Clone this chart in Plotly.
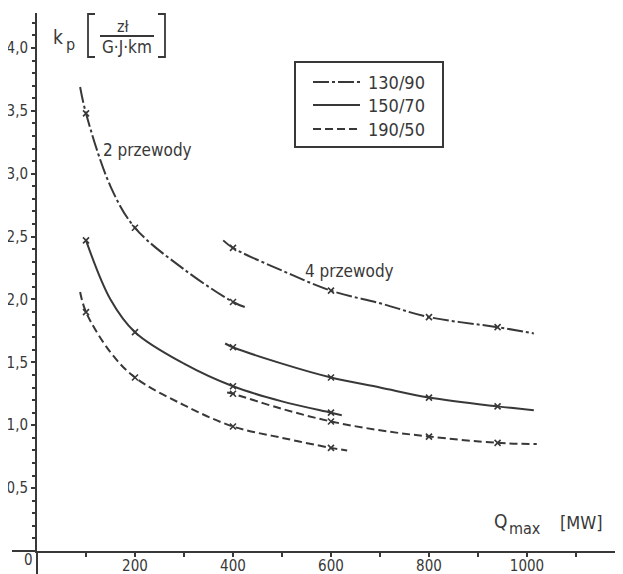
import plotly.graph_objects as go

# ---------------- data ----------------
# curves: Q_max [MW] and k_p [zł/(GJ·km)]
q_130_2 = [88, 100, 150, 200, 300, 400, 424]
k_130_2 = [3.69, 3.48, 2.90, 2.57, 2.24, 1.98, 1.94]
q_150_2 = [100, 150, 200, 300, 400, 500, 600, 622]
k_150_2 = [2.47, 2.00, 1.74, 1.49, 1.31, 1.19, 1.10, 1.08]
q_190_2 = [88, 100, 150, 200, 300, 400, 500, 600, 633]
k_190_2 = [2.06, 1.90, 1.58, 1.38, 1.16, 0.99, 0.90, 0.82, 0.80]

q_130_4 = [380, 400, 500, 600, 700, 800, 940, 1014]
k_130_4 = [2.47, 2.41, 2.23, 2.07, 1.97, 1.86, 1.78, 1.73]
q_150_4 = [384, 400, 500, 600, 700, 800, 940, 1014]
k_150_4 = [1.65, 1.62, 1.49, 1.38, 1.30, 1.22, 1.15, 1.12]
q_190_4 = [388, 400, 500, 600, 700, 800, 940, 1020]
k_190_4 = [1.26, 1.25, 1.13, 1.03, 0.96, 0.91, 0.86, 0.85]

# computed points (small cross marks)
mq_130_2 = [100, 200, 400]
mk_130_2 = [3.48, 2.57, 1.98]
mq_150_2 = [100, 200, 400, 600]
mk_150_2 = [2.47, 1.74, 1.31, 1.10]
mq_190_2 = [100, 200, 400, 600]
mk_190_2 = [1.90, 1.38, 0.99, 0.82]
mq_4 = [400, 600, 800, 940]
mk_130_4 = [2.41, 2.07, 1.86, 1.78]
mk_150_4 = [1.62, 1.38, 1.22, 1.15]
mk_190_4 = [1.25, 1.03, 0.91, 0.86]

series_names = ["130/90", "150/70", "190/50"]
x_tick_vals = [200, 400, 600, 800, 1000]
x_tick_text = ["200", "400", "600", "800", "1000"]
y_tick_vals = [0.5, 1.0, 1.5, 2.0, 2.5, 3.0, 3.5, 4.0]
y_tick_text = ["0,5", "1,0", "1,5", "2,0", "2,5", "3,0", "3,5", "4,0"]

# ---------------- style ----------------
INK = "#383838"
FONT = "DejaVu Sans Condensed, DejaVu Sans, sans-serif"
DASHES = {"130/90": "16px,3px,3px,3px", "150/70": "solid", "190/50": "8px,4px"}

# the page body keeps its default 8px margin, so the figure is drawn 8px
# smaller and everything is laid out in page coordinates
PAGE_W, PAGE_H, BODY = 623, 574, 8
W, H = PAGE_W - BODY, PAGE_H - BODY
AX_X0, AX_Y0, TOP = 37, 551, 13           # page pixels of the axes
L, T, B, R = AX_X0 - BODY, TOP - BODY, PAGE_H - AX_Y0, 0
PW, PH = W - L - R, H - T - B


def px(xp):
    return (xp - AX_X0) / PW


def py(yp):
    return (AX_Y0 - yp) / PH


fig = go.Figure()

curves = [
    ("130/90", q_130_2, k_130_2, mq_130_2, mk_130_2),
    ("150/70", q_150_2, k_150_2, mq_150_2, mk_150_2),
    ("190/50", q_190_2, k_190_2, mq_190_2, mk_190_2),
    ("130/90", q_130_4, k_130_4, mq_4, mk_130_4),
    ("150/70", q_150_4, k_150_4, mq_4, mk_150_4),
    ("190/50", q_190_4, k_190_4, mq_4, mk_190_4),
]
for name, q, k, mq, mk in curves:
    fig.add_trace(go.Scatter(
        x=q, y=k, mode="lines", name=name, showlegend=False,
        line=dict(color=INK, width=2, dash=DASHES[name], shape="spline", smoothing=1.0),
        hoverinfo="skip"))
    fig.add_trace(go.Scatter(
        x=mq, y=mk, mode="markers", name=name, showlegend=False,
        marker=dict(symbol="x-thin", size=6, line=dict(color=INK, width=1.6), color=INK)))

fig.update_layout(
    width=W, height=H,
    margin=dict(l=L, r=R, t=T, b=B, autoexpand=False),
    paper_bgcolor="white", plot_bgcolor="white",
    font=dict(family=FONT, color=INK, size=15),
    showlegend=False,
    xaxis=dict(range=[0, 1196], showgrid=False, zeroline=False, automargin=False,
               showline=True, linecolor=INK, linewidth=2,
               tickmode="array", tickvals=x_tick_vals, ticktext=x_tick_text,
               ticks="", ticklabelstandoff=0,
               tickfont=dict(family=FONT, size=15, color=INK),
               minor=dict(tick0=0, dtick=100, ticks="outside", ticklen=4,
                          tickwidth=1.5, tickcolor=INK)),
    yaxis=dict(range=[0, 4.278], showgrid=False, zeroline=False, automargin=False,
               showline=True, linecolor=INK, linewidth=2,
               tickmode="array", tickvals=y_tick_vals, ticktext=y_tick_text,
               ticks="outside", ticklen=4, tickwidth=1.5, tickcolor=INK,
               tickfont=dict(family=FONT, size=15, color=INK),
               minor=dict(tick0=0, dtick=0.1, ticks="outside", ticklen=3,
                          tickwidth=1.5, tickcolor=INK)),
)

shapes = []
# axis extensions past the origin
shapes.append(dict(type="line", xref="paper", yref="paper", x0=px(12), x1=0, y0=0, y1=0,
                   line=dict(color=INK, width=2)))
shapes.append(dict(type="line", xref="paper", yref="paper", x0=0, x1=0, y0=py(574), y1=0,
                   line=dict(color=INK, width=2)))
# unit brackets and fraction line
shapes.append(dict(type="path", xref="paper", yref="paper",
                   path=f"M {px(95)} {py(14)} L {px(88)} {py(14)} L {px(88)} {py(57)} L {px(95)} {py(57)}",
                   line=dict(color=INK, width=1.8)))
shapes.append(dict(type="path", xref="paper", yref="paper",
                   path=f"M {px(158)} {py(14)} L {px(165)} {py(14)} L {px(165)} {py(57)} L {px(158)} {py(57)}",
                   line=dict(color=INK, width=1.8)))
shapes.append(dict(type="line", xref="paper", yref="paper", x0=px(100), x1=px(154),
                   y0=py(36), y1=py(36), line=dict(color=INK, width=1.8)))
# legend box and line samples
shapes.append(dict(type="rect", xref="paper", yref="paper", x0=px(295), x1=px(443),
                   y0=py(62), y1=py(147), line=dict(color=INK, width=2), fillcolor="white",
                   layer="below"))
legend_rows = [82, 105, 129]
for name, yrow in zip(series_names, legend_rows):
    shapes.append(dict(type="line", xref="paper", yref="paper", x0=px(313), x1=px(360),
                       y0=py(yrow), y1=py(yrow),
                       line=dict(color=INK, width=2, dash=DASHES[name])))
fig.update_layout(shapes=shapes)

ann = []


def text(x, y, s, size, xanchor="left", yanchor="middle"):
    ann.append(dict(xref="paper", yref="paper", x=px(x), y=py(y), text=s, showarrow=False,
                    xanchor=xanchor, yanchor=yanchor,
                    font=dict(family=FONT, size=size, color=INK)))


for name, yrow in zip(series_names, legend_rows):
    text(366, yrow, name, 18)
text(51, 37, "k", 19)
text(64, 45, "p", 16)
text(123, 27, "zł", 16, xanchor="center")
text(127, 47, "G·J·km", 17, xanchor="center")
text(101, 150, "2 przewody", 17)
text(303, 271, "4 przewody", 17)
text(492, 521, "Q", 19)
text(507, 528, "max", 16)
text(558, 522, "[MW]", 18)
text(28, 560, "0", 15, xanchor="center")
fig.update_layout(annotations=ann)

fig.write_html("out.html")
